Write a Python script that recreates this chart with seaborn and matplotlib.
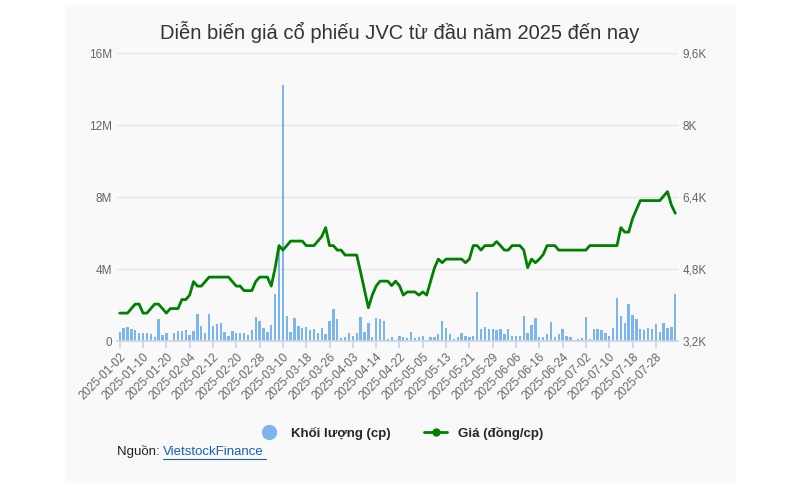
import matplotlib
matplotlib.use("Agg")
import matplotlib.pyplot as plt
import seaborn as sns
import pandas as pd
import numpy as np
from matplotlib.ticker import FuncFormatter
from matplotlib.lines import Line2D

holidays = ["2025-01-27", "2025-01-28", "2025-01-29", "2025-01-30", "2025-01-31",
            "2025-04-07", "2025-04-30", "2025-05-01", "2025-05-02"]
dates = pd.bdate_range("2025-01-02", "2025-08-04", freq="C", holidays=holidays)
date_labels = [d.strftime("%Y-%m-%d") for d in dates]

volume_m = [
    0.5, 0.7, 0.8, 0.65, 0.6, 0.45, 0.45, 0.45, 0.4, 0.25,
    1.2, 0.35, 0.45, 0.05, 0.45, 0.55, 0.55, 0.6, 0.35, 0.55,
    1.5, 0.85, 0.45, 1.5, 0.85, 0.95, 1.0, 0.5, 0.3, 0.55,
    0.45, 0.45, 0.45, 0.35, 0.6, 1.35, 1.1, 0.7, 0.5, 0.9,
    2.6, 5.3, 14.2, 1.4, 0.5, 1.3, 0.85, 0.75, 0.8, 0.6,
    0.65, 0.45, 0.7, 0.4, 1.1, 1.8, 1.2, 0.15, 0.25, 0.45,
    0.3, 0.45, 1.35, 0.5, 1.0, 0.2, 1.3, 1.2, 1.1, 0.1,
    0.2, 0.05, 0.3,
    0.2, 0.15, 0.5, 0.15, 0.2, 0.3, 0.05, 0.25, 0.25, 0.4,
    1.1, 0.75, 0.4, 0.1, 0.25, 0.45, 0.3, 0.25, 0.3, 2.75,
    0.65, 0.8, 0.65, 0.65, 0.6, 0.65, 0.4, 0.65, 0.3, 0.3,
    0.3, 1.4, 0.45, 0.9, 1.3, 0.25, 0.2, 0.4, 1.05, 0.2,
    0.4, 0.65, 0.3, 0.2, 0.05, 0.1, 0.15, 1.35, 0.1, 0.65,
    0.65, 0.6, 0.45, 0.3, 0.75, 2.4, 1.4, 1.0, 2.05, 1.45,
    1.25, 0.65, 0.6, 0.75, 0.65, 0.95, 0.5, 1.0, 0.75, 0.8,
    2.6,
]

price_k = [
    3.82, 3.82, 3.82, 3.92, 4.02, 4.02, 3.82, 3.82, 3.92, 4.02,
    4.02, 3.92, 3.82, 3.92, 3.92, 3.92, 4.12, 4.12, 4.22, 4.52,
    4.42, 4.42, 4.52, 4.62, 4.62, 4.62, 4.62, 4.62, 4.62, 4.52,
    4.42, 4.42, 4.32, 4.32, 4.32, 4.52, 4.62, 4.62, 4.62, 4.42,
    4.82, 5.32, 5.22, 5.32, 5.42, 5.42, 5.42, 5.42, 5.32, 5.32,
    5.32, 5.42, 5.52, 5.72, 5.32, 5.32, 5.22, 5.22, 5.11, 5.11,
    5.11, 5.11, 4.73, 4.33, 3.94, 4.22, 4.42, 4.53, 4.53, 4.53,
    4.43, 4.53, 4.43, 4.22, 4.29, 4.29, 4.29, 4.22, 4.29, 4.22,
    4.52, 4.82, 5.02, 4.94, 5.02, 5.02, 5.02, 5.02, 5.02, 4.94,
    5.02, 5.32, 5.32, 5.22, 5.32, 5.32, 5.32, 5.41, 5.32, 5.22,
    5.22, 5.32, 5.32, 5.32, 5.22, 4.83, 5.02, 4.94, 5.02, 5.12,
    5.32, 5.32, 5.32, 5.22, 5.22, 5.22, 5.22, 5.22, 5.22, 5.22,
    5.22, 5.32, 5.32, 5.32, 5.32, 5.32, 5.32, 5.32, 5.32, 5.72,
    5.62, 5.62, 5.92, 6.12, 6.32, 6.32, 6.32, 6.32, 6.32, 6.32,
    6.42, 6.52, 6.22, 6.04,
]

n = min(len(date_labels), len(volume_m), len(price_k))
df = pd.DataFrame({"idx": np.arange(n), "date": date_labels[:n],
                   "vol": np.array(volume_m[:n]) * 1e6, "price": np.array(price_k[:n]) * 1000})

sns.set_theme(style="white")
plt.rcParams["font.family"] = ["Liberation Sans", "DejaVu Sans"]

fig = plt.figure(figsize=(7.92, 4.87), dpi=100)
fig.patches.append(matplotlib.patches.Rectangle((65/792, 0.01), 670/792, 0.98,
                   transform=fig.transFigure, color="#f9f9f9", zorder=-10))
ax = fig.add_axes([117/792, 1 - 341/487, (678 - 117)/792, (341 - 53)/487])
ax.set_facecolor("#f9f9f9")
sns.barplot(data=df, x="idx", y="vol", color="#7cb5ec", saturation=1, width=0.6,
            edgecolor="none", linewidth=0, ax=ax, zorder=2)
ax.set_ylim(0, 16e6)
ax.set_yticks([0, 4e6, 8e6, 12e6, 16e6])
ax.yaxis.set_major_formatter(FuncFormatter(lambda v, p: "0" if v == 0 else f"{int(v/1e6)}M"))
ax.grid(axis="y", color="#e6e6e6", lw=1, zorder=0)
ax.set_axisbelow(True)
ax.set_xlim(-0.7, n - 0.3)
ticks = list(range(0, n, 6))
ax.set_xticks(ticks)
ax.set_xticklabels([date_labels[i] for i in ticks], rotation=45, ha="right",
                   rotation_mode="anchor", fontsize=8.5, color="#666666")
ax.tick_params(axis="x", length=5, color="#ccd6eb", bottom=True, pad=2)
ax.tick_params(axis="y", length=0, labelsize=8.5, labelcolor="#666666")
ax.set_xlabel(""); ax.set_ylabel("")
for s in ["top", "right", "left"]:
    ax.spines[s].set_visible(False)
ax.spines["bottom"].set_color("#ccd6eb")

ax2 = ax.twinx()
sns.lineplot(data=df, x="idx", y="price", color="#008000", lw=2, ax=ax2, zorder=3)
ax2.set_ylim(3200, 9600)
ax2.set_yticks([3200, 4800, 6400, 8000, 9600])
ax2.yaxis.set_major_formatter(FuncFormatter(lambda v, p: f"{v/1000:.1f}K".replace(".", ",").replace(",0K", "K")))
ax2.tick_params(axis="y", length=0, labelsize=8.5, labelcolor="#666666")
ax2.set_ylabel("")
for s in ax2.spines.values():
    s.set_visible(False)

fig.text(400/792, 1 - 32/487, "Diễn biến giá cổ phiếu JVC từ đầu năm 2025 đến nay",
         ha="center", va="center", fontsize=14.5, color="#333333")

h1 = Line2D([], [], marker="o", ls="", color="#7cb5ec", markersize=10)
h2 = Line2D([], [], marker="o", ls="-", color="#008000", markersize=5, lw=2)
fig.legend([h1, h2], ["Khối lượng (cp)", "Giá (đồng/cp)"], loc="center",
           bbox_to_anchor=(400/792, 1 - 433/487), ncol=2, frameon=False,
           prop={"weight": "bold", "size": 9.5}, handlelength=1.8, columnspacing=2.5)

fig.text(117/792, 1 - 452/487, "Nguồn: ", ha="left", va="center", fontsize=9.5, color="#222222")
fig.text(163/792, 1 - 452/487, "VietstockFinance", ha="left", va="center", fontsize=9.5,
         color="#1a5fb4", url="https://finance.vietstock.vn")
fig.add_artist(Line2D([163/792, 266/792], [1 - 459/487, 1 - 459/487], color="#1a5fb4", lw=0.8,
                      transform=fig.transFigure))

fig.savefig("out.png", dpi=100)
